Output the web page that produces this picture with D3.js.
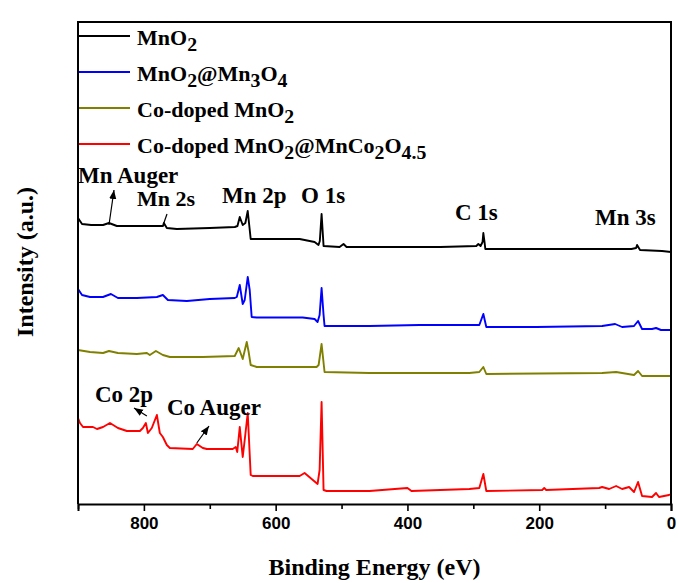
<!DOCTYPE html>
<html><head><meta charset="utf-8">
<script src="https://cdn.jsdelivr.net/npm/d3@7"></script>
<style>body{margin:0;background:#fff}svg{display:block}</style>
</head><body>
<script>
// ---- data (binding energy eV, intensity a.u.) ----
const seriesNames = ["MnO_2", "MnO_2@Mn_3O_4", "Co-doped MnO_2", "Co-doped MnO_2@MnCo_2O_4.5"];
const seriesColors = ["#000000", "#0000ff", "#808000", "#ff0000"];

const mno2 = [[900,286],[893.9,280],[880,279],[862,279],[853,281],[841,278],[800,278],[771,278],[769.7,281],[765.2,276],[750,275],[700,276],[662,277],[658,278],[654.5,287],[650,279],[646,281],[642.4,293],[639.5,275],[637.9,265],[600,265],[563.6,265],[540.9,262],[535,259],[533,263],[530.3,290],[527.3,258],[503,257],[497,260],[492.4,257],[457.6,257],[412,257],[350,257],[295.5,258],[292.4,260],[289,258],[286,262],[284.8,271],[283,262],[281.8,255],[200,255],[159,255],[60,255],[53,256],[51.5,259],[47,254],[13.6,253],[0,252]];

const mno2Mn3o4 = [[900,215],[893.9,209],[881.8,207],[862.1,207],[850,210],[839.4,206],[810.6,206],[780.3,207],[771.2,209],[763.6,204],[734.8,203],[700,205],[662.1,206],[659,207],[654.5,219],[650,200],[647,204],[642.4,227],[639.4,214],[636.4,187],[628.8,186.5],[559,186.5],[540.9,185],[536.4,182],[533.3,189],[530.3,216],[527.3,189],[525.8,178],[518.2,178],[457.6,178],[381.8,179],[290.9,179],[284.8,190],[280.3,177],[204.5,177],[104.5,178],[84.8,180],[74.2,177],[56.1,178],[50,183],[43.9,175],[28.8,175],[22.7,176],[15.2,174],[0,174]];

const coMno2 = [[900,154],[881.8,152],[862,151],[853,153],[839.4,151],[810.6,150],[795.5,151],[791,149],[781.8,153],[771.2,149],[760.6,147],[710.6,147],[662.1,148],[656.1,156],[650,145],[643.9,162],[641,152],[637.9,139],[628.8,137],[537.9,137],[534.8,139],[530.3,160],[525.8,132],[457.6,131],[306.1,131],[290.9,132],[284.8,137],[280.3,130],[104.5,131],[83.3,132],[56.1,129],[50,133],[43.9,128],[0,128]];

const coMno2MnCo2o4 = [[900,86],[897,81],[892.4,77],[877.3,77],[871.2,75],[862,77],[851.5,81],[839.4,76],[825.8,73],[806.1,73],[801.5,76],[797,81],[793.9,71],[788,76],[780.3,89],[775.8,71],[771.2,67],[765.2,59],[760.6,56],[725.8,55],[719.7,60],[710.6,56],[704.5,55],[665.2,55],[660.6,57],[658.3,52],[654.5,77],[650,47],[647,64],[642.4,91],[637.9,29],[634.8,28],[563.6,28],[556.1,31],[536.4,20],[533.3,34],[530.3,102],[527.3,14],[522.7,13],[457.6,13],[400,16],[393.9,13],[306.1,15],[290.9,16],[284.8,30],[280.3,13],[195.5,14],[192.4,16],[189.4,14],[109.1,16],[104.5,17],[93.9,15],[83.3,18],[74.2,15],[63.6,17],[56.1,12],[50,22],[43.9,8],[28.8,7],[22.7,11],[18.2,7],[3,9],[0,10]];

const seriesData = [mno2, mno2Mn3o4, coMno2, coMno2MnCo2o4];

const xTickValues = [900, 800, 700, 600, 500, 400, 300, 200, 100, 0];
const xTickLabels = {800: "800", 600: "600", 400: "400", 200: "200", 0: "0"};
const xDomain = [900, 0];
const yDomain = [0, 482];

const peakLabels = ["Mn Auger", "Mn 2s", "Mn 2p", "O 1s", "C 1s", "Mn 3s", "Co 2p", "Co Auger"];

// ---- drawing ----
const W = 679, H = 583;
const m = {left: 78, right: 8, top: 22, bottom: 79};
const svg = d3.select("body").append("svg").attr("width", W).attr("height", H);

const x = d3.scaleLinear().domain(xDomain).range([m.left, W - m.right]);
const y = d3.scaleLinear().domain(yDomain).range([H - m.bottom, m.top]);

const serif = "Liberation Serif, Times New Roman, serif";
const sans = "Liberation Sans, Arial, sans-serif";

const defs = svg.append("defs");
defs.append("marker").attr("id", "ah").attr("viewBox", "0 0 10 10")
  .attr("refX", 10).attr("refY", 5).attr("markerWidth", 9).attr("markerHeight", 9)
  .attr("markerUnits", "userSpaceOnUse").attr("orient", "auto")
  .append("path").attr("d", "M0,1 L10,5 L0,9 z").attr("fill", "#000");

// curves
const line = d3.line().x(d => x(d[0])).y(d => y(d[1]));
seriesData.forEach((s, i) => {
  svg.append("path").datum(s).attr("d", line).attr("fill", "none")
    .attr("stroke", seriesColors[i]).attr("stroke-width", 1.9).attr("stroke-linejoin", "round");
});

// frame
svg.append("path")
  .attr("d", `M${x(900)},${y(0)}V${y(482)}H${x(0)}V${y(0)}`)
  .attr("fill", "none").attr("stroke", "#000").attr("stroke-width", 2);

// x axis
const xAxis = d3.axisBottom(x).tickValues(xTickValues)
  .tickSize(7).tickFormat(d => xTickLabels[d] || "");
const gx = svg.append("g").attr("transform", `translate(0,${y(0)})`).call(xAxis);
gx.select(".domain").attr("stroke-width", 2);
gx.selectAll(".tick line").attr("stroke-width", 1.6)
  .attr("y2", d => xTickLabels[d] ? 7 : 5);
gx.selectAll(".tick text").attr("font-family", sans).attr("font-weight", "bold")
  .attr("font-size", 17).attr("fill", "#000").attr("y", 7).attr("dy", "1.05em");

// axis titles
svg.append("text").attr("x", (x(900) + x(0)) / 2).attr("y", 575)
  .attr("text-anchor", "middle").attr("font-family", serif).attr("font-weight", "bold")
  .attr("font-size", 24).text("Binding Energy (eV)");
svg.append("text").attr("transform", `translate(33,262) rotate(-90)`)
  .attr("text-anchor", "middle").attr("font-family", serif).attr("font-weight", "bold")
  .attr("font-size", 24).text("Intensity (a.u.)");

// legend
function richText(sel, label) {
  const parts = label.split(/_([0-9.]+)/);
  let lowered = false;
  parts.forEach((p, k) => {
    if (!p) return;
    const sub = k % 2 === 1;
    let dy = 0;
    if (sub && !lowered) { dy = 6; lowered = true; }
    else if (!sub && lowered) { dy = -6; lowered = false; }
    sel.append("tspan").text(p).attr("font-size", sub ? "0.9em" : null).attr("dy", dy);
  });
}
const legendY = [36, 72, 108, 144];
seriesNames.forEach((n, i) => {
  svg.append("line").attr("x1", 79).attr("x2", 130)
    .attr("y1", legendY[i]).attr("y2", legendY[i])
    .attr("stroke", seriesColors[i]).attr("stroke-width", 2);
  const t = svg.append("text").attr("x", 137).attr("y", legendY[i] + 9)
    .attr("font-family", serif).attr("font-weight", "bold").attr("font-size", 22).attr("fill", "#000");
  richText(t, n);
});

// peak labels
const labelPos = [[78,183],[137,206],[222,203],[301,203],[455,220],[595,225],[95,402],[167,415]];
peakLabels.forEach((lab, i) => {
  svg.append("text").attr("x", labelPos[i][0]).attr("y", labelPos[i][1])
    .attr("font-family", serif).attr("font-weight", "bold").attr("font-size", i === 1 ? 22 : 23)
    .attr("fill", "#000").text(lab);
});

// arrows
const arrows = [
  {from: [853, 279], to: [114, 190], head: true},
  {from: [769.7, 281], to: [167, 214], head: false},
  {from: [795.5, 88], to: [134, 408], head: true},
  {from: [719.7, 61], to: [209, 426], head: true}
];
arrows.forEach(a => {
  const l = svg.append("line").attr("x1", x(a.from[0])).attr("y1", y(a.from[1]))
    .attr("x2", a.to[0]).attr("y2", a.to[1]).attr("stroke", "#000").attr("stroke-width", 1.2);
  if (a.head) l.attr("marker-end", "url(#ah)");
});
</script>
</body></html>
